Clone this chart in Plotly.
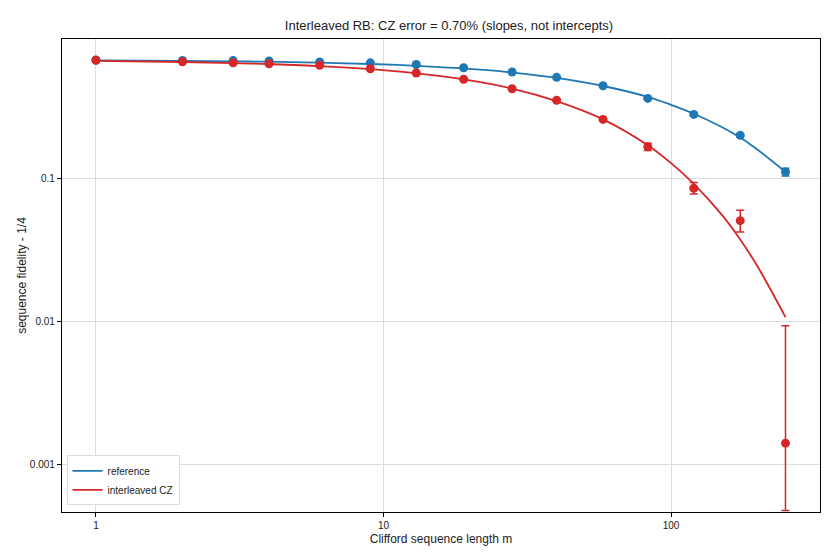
import plotly.graph_objects as go

# Clifford sequence lengths
lengths = [1, 2, 3, 4, 6, 9, 13, 19, 28, 40, 58, 83, 120, 174, 250]

# measured sequence fidelity - 1/4
ref_vals = [0.679, 0.675, 0.673, 0.669, 0.659, 0.649, 0.632, 0.600,
            0.560, 0.514, 0.449, 0.366, 0.283, 0.202, 0.112]
ref_err = [0.003, 0.003, 0.003, 0.003, 0.003, 0.003, 0.003, 0.003,
           0.003, 0.003, 0.004, 0.004, 0.005, 0.005, 0.007]

int_vals = [0.676, 0.661, 0.650, 0.640, 0.624, 0.590, 0.551, 0.498,
            0.428, 0.355, 0.261, 0.168, 0.0861, 0.0511, 0.00142]
int_err_plus = [0.003, 0.003, 0.003, 0.003, 0.003, 0.003, 0.003, 0.004,
                0.004, 0.004, 0.005, 0.010, 0.0085, 0.0093, 0.0080]
int_err_minus = [0.003, 0.003, 0.003, 0.003, 0.003, 0.003, 0.003, 0.004,
                 0.004, 0.004, 0.005, 0.010, 0.0075, 0.0085, 0.00094]

# fitted decay curves, sampled along m
fit_m = [1, 2, 3, 4, 6, 9, 13, 19, 28, 40, 58, 83, 100, 120, 150, 174, 200, 250]
ref_fit = [0.675, 0.670, 0.665, 0.661, 0.651, 0.637, 0.619, 0.593, 0.555,
           0.509, 0.447, 0.375, 0.330, 0.286, 0.231, 0.195, 0.160, 0.112]
int_fit = [0.669, 0.658, 0.647, 0.636, 0.616, 0.586, 0.548, 0.497, 0.429,
           0.350, 0.261, 0.172, 0.129, 0.0925, 0.0563, 0.0378, 0.0244, 0.0108]

x_ticks = [1, 10, 100]
x_labels = ['1', '10', '100']
y_ticks = [0.001, 0.01, 0.1]
y_labels = ['0.001', '0.01', '0.1']

BLUE = '#1f77b4'
RED = '#d62728'

fig = go.Figure()

# fit lines (these carry the legend)
fig.add_trace(go.Scatter(
    x=fit_m, y=ref_fit, mode='lines', name='reference',
    line=dict(color=BLUE, width=1.8, shape='spline')
))
fig.add_trace(go.Scatter(
    x=fit_m, y=int_fit, mode='lines', name='interleaved CZ',
    line=dict(color=RED, width=1.8, shape='spline')
))

# measured points with error bars
fig.add_trace(go.Scatter(
    x=lengths, y=ref_vals, mode='markers', showlegend=False,
    marker=dict(color=BLUE, size=9),
    error_y=dict(type='data', array=ref_err, color=BLUE,
                 thickness=1.5, width=4)
))
fig.add_trace(go.Scatter(
    x=lengths, y=int_vals, mode='markers', showlegend=False,
    marker=dict(color=RED, size=9),
    error_y=dict(type='data', array=int_err_plus, arrayminus=int_err_minus,
                 color=RED, thickness=1.5, width=4)
))

# page body adds an 8px offset, margins below compensate for it
fig.update_layout(
    width=840, height=560,
    margin=dict(l=54, r=28, t=31, b=56, autoexpand=False),
    paper_bgcolor='white',
    plot_bgcolor='white',
    font=dict(family='Liberation Sans, Arial, sans-serif', size=11, color='#222'),
    title=dict(text='Interleaved RB: CZ error = 0.70% (slopes, not intercepts)',
               x=0.525, xanchor='center', y=0.968, yanchor='middle',
               font=dict(size=13, color='#222')),
    legend=dict(x=0.006, y=0.014, xanchor='left', yanchor='bottom',
                bgcolor='white', bordercolor='#dddddd', borderwidth=1,
                itemwidth=30, font=dict(size=10)),
)

fig.update_xaxes(
    type='log', range=[-0.118, 2.518], automargin=False,
    tickvals=x_ticks, ticktext=x_labels,
    title=dict(text='Clifford sequence length m', font=dict(size=12), standoff=4),
    showgrid=True, gridcolor='#dddddd', gridwidth=1,
    showline=True, linecolor='black', linewidth=1.2, mirror=True,
    ticks='outside', ticklen=4, tickcolor='black', tickfont=dict(size=10),
    zeroline=False
)
fig.update_yaxes(
    type='log', range=[-3.329, -0.021], automargin=False,
    tickvals=y_ticks, ticktext=y_labels,
    title=dict(text='sequence fidelity - 1/4', font=dict(size=12), standoff=0),
    showgrid=True, gridcolor='#dddddd', gridwidth=1,
    showline=True, linecolor='black', linewidth=1.2, mirror=True,
    ticks='outside', ticklen=4, tickcolor='black', tickfont=dict(size=10),
    zeroline=False
)

fig.write_html('out.html')
